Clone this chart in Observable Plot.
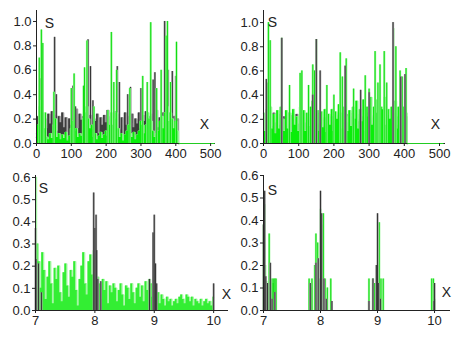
<!DOCTYPE html>
<html><head><meta charset="utf-8">
<script src="https://cdn.jsdelivr.net/npm/d3@7"></script>
<script src="https://cdn.jsdelivr.net/npm/@observablehq/plot@0.6"></script>
<style>
body{margin:0;background:#fff;}
#chart{position:relative;width:463px;height:340px;overflow:hidden;}
#chart svg{position:absolute;}
</style></head><body><div id="chart"></div>
<script>
// ---------- DATA ----------
const topXTicks = [0, 100, 200, 300, 400, 500];
const topYTicks = [0, 0.2, 0.4, 0.6, 0.8, 1.0];
const botXTicks = [7, 8, 9, 10];
const botYTicks = [0, 0.1, 0.2, 0.3, 0.4, 0.5, 0.6];

// Panel 1 (top-left) black series, x = 0,5,...,410
const k1 = [0.05,0.22,0.15,0.25,0.18,0.20,0.12,0.24,0.16,0.26,0.14,0.23,0.10,0.22,0.17,0.25,0.13,0.21,0.03,0.20,
  0.15,0.26,0.18,0.28,0.12,0.24,0.19,0.22,0.10,0.25,0.16,0.23,0.14,0.20,0.18,0.24,0.08,0.21,0.15,0.23,
  0.17,0.27,0.12,0.22,0.16,0.26,0.19,0.24,0.11,0.21,0.02,0.25,0.15,0.22,0.17,0.24,0.13,0.20,0.16,0.25,
  0.12,0.23,0.18,0.26,0.14,0.22,0.09,0.24,0.16,0.27,0.13,0.21,0.17,0.25,0.10,0.23,0.15,0.24,0.12,0.22,
  0.18,0.20,0.00];
const k1Spikes = [[12,0.53],[52,0.87],[57,0.40],[105,0.47],[112,0.30],[148,0.85],[155,0.63],[162,0.35],[232,0.63],[238,0.50],
  [262,0.40],[270,0.46],[300,0.45],[335,0.52],[340,0.58],[368,1.00],[378,0.60],[390,0.59],[400,0.55]];
// Panel 1 green series, x = 0,5,...,510
const g1 = [0.08,0.15,0.30,0.35,0.25,0.12,0.05,0.03,0.08,0.04,0.15,0.20,0.05,0.08,0.03,0.07,0.04,0.09,0.02,0.06,
  0.12,0.18,0.10,0.12,0.05,0.08,0.06,0.20,0.25,0.30,0.20,0.12,0.15,0.05,0.08,0.03,0.06,0.09,0.04,0.07,
  0.10,0.06,0.15,0.25,0.15,0.20,0.25,0.12,0.05,0.08,0.02,0.07,0.10,0.15,0.08,0.05,0.09,0.03,0.07,0.10,
  0.18,0.15,0.08,0.15,0.25,0.20,0.18,0.10,0.05,0.08,0.10,0.18,0.22,0.12,0.25,0.30,0.18,0.25,0.20,0.12,
  0.18,0.10,0.00,0,0,0,0,0,0,0,0,0,0,0,0,0,0,0,0,0,0,0,0];
const g1Spikes = [[8,0.70],[14,0.93],[18,0.82],[26,0.25],[50,0.42],[100,0.45],[108,0.57],[135,0.47],[138,0.62],[145,0.84],
  [165,0.30],[205,0.27],[215,0.91],[222,0.50],[230,0.60],[268,0.45],[305,0.55],[318,0.50],[328,0.99],[345,0.45],
  [358,0.60],[372,0.88],[376,1.00],[385,0.50],[402,0.83]];

// Panel 2 (top-right)
const k2 = [0.20,0.15,0.24,0.16,0.22,0.14,0.25,0.17,0.21,0.15,0.24,0.18,0.22,0.14,0.25,0.16,0.23,0.15,0.20,0.24,
  0.16,0.22,0.15,0.25,0.17,0.21,0.14,0.24,0.18,0.22,0.15,0.25,0.16,0.23,0.14,0.21,0.17,0.24,0.15,0.22,
  0.18,0.25,0.14,0.23,0.16,0.21,0.15,0.24,0.17,0.22,0.14,0.25,0.16,0.20,0.18,0.24,0.15,0.22,0.17,0.25,
  0.14,0.23,0.16,0.21,0.18,0.24,0.15,0.22,0.17,0.25,0.14,0.23,0.16,0.20,0.18,0.24,0.15,0.22,0.17,0.21,
  0.16,0.22,0.00];
const k2Spikes = [[8,0.53],[52,0.87],[140,0.40],[150,0.86],[161,0.60],[232,0.64],[276,0.44],[300,0.42],[368,1.00],[390,0.55],[402,0.57]];
const g2 = [0.25,0.10,0.28,0.40,0.30,0.12,0.24,0.08,0.27,0.12,0.30,0.20,0.10,0.27,0.12,0.25,0.09,0.28,0.15,0.22,
  0.10,0.30,0.18,0.27,0.10,0.25,0.14,0.30,0.35,0.28,0.20,0.27,0.10,0.26,0.13,0.28,0.09,0.24,0.15,0.28,
  0.10,0.26,0.20,0.32,0.25,0.12,0.30,0.22,0.10,0.27,0.14,0.30,0.20,0.35,0.12,0.28,0.18,0.36,0.10,0.30,
  0.22,0.38,0.15,0.30,0.25,0.36,0.12,0.30,0.28,0.38,0.15,0.28,0.20,0.30,0.25,0.35,0.12,0.30,0.28,0.20,
  0.30,0.25,0.00,0,0,0,0,0,0,0,0,0,0,0,0,0,0,0,0,0,0,0,0];
const g2Spikes = [[10,0.50],[14,1.00],[19,0.85],[52,0.87],[74,0.48],[104,0.58],[109,0.60],[128,0.48],[140,0.65],[145,0.60],
  [150,0.86],[180,0.48],[200,0.40],[218,0.75],[224,0.55],[235,0.70],[256,0.45],[289,0.56],[300,0.45],[317,0.76],
  [325,0.50],[331,0.65],[343,0.76],[350,0.50],[369,0.95],[376,0.80],[388,0.60],[394,0.55],[405,0.62]];

// Panel 3 (bottom-left), green x = 7.00, 7.03, ..., 10.00
const g3 = [0.60,0.30,0.22,0.10,0.26,0.18,0.05,0.15,0.22,0.12,0.03,0.19,0.14,0.20,0.08,0.04,0.17,0.21,0.11,0.06,
  0.18,0.15,0.22,0.09,0.02,0.14,0.20,0.26,0.12,0.07,0.22,0.25,0.16,0.27,
  0.10,0.15,0.12,0.05,0.14,0.09,0.13,0.03,0.11,0.08,0.12,0.10,0.04,0.09,0.12,0.07,0.02,0.11,0.10,0.05,
  0.12,0.08,0.03,0.10,0.12,0.06,0.11,0.04,0.13,0.09,0.14,0.12,0.06,
  0.10,0.06,0.08,0.03,0.07,0.05,0.02,0.06,0.04,0.05,0.02,0.04,0.05,0.03,0.06,0.07,0.05,0.03,0.07,0.06,
  0.04,0.06,0.02,0.05,0.04,0.03,0.05,0.02,0.04,0.05,0.03,0.04,0.02,0.06];
const k3Spikes = [[7.00,0.37],[7.01,0.23],[7.05,0.21],[7.10,0.08],[7.98,0.53],[8.00,0.37],[8.02,0.43],[8.03,0.27],[8.05,0.14],
  [8.10,0.13],[8.92,0.14],[8.98,0.35],[9.00,0.43],[9.02,0.21],[9.04,0.12],[10.00,0.12]];

// Panel 4 (bottom-right)
const g4Spikes = [[7.00,0.38],[7.01,0.30],[7.02,0.47],[7.03,0.20],[7.05,0.13],[7.07,0.10],[7.08,0.12],[7.10,0.34],[7.12,0.10],
  [7.15,0.14],[7.17,0.12],[7.18,0.14],[7.20,0.14],[7.22,0.14],[7.80,0.14],[7.82,0.12],[7.83,0.10],[7.85,0.14],[7.90,0.20],
  [7.92,0.34],[7.95,0.30],[7.97,0.12],[7.98,0.14],[8.00,0.45],[8.01,0.25],[8.02,0.38],[8.05,0.43],[8.08,0.14],[8.12,0.10],
  [8.18,0.14],[8.85,0.14],[8.92,0.14],[8.95,0.12],[9.00,0.20],[9.03,0.39],[9.06,0.14],[9.10,0.14],[9.95,0.14],[9.98,0.14],[10.00,0.05]];
const k4Spikes = [[7.00,0.38],[7.02,0.53],[7.04,0.15],[7.07,0.12],[7.12,0.21],[7.15,0.05],[7.20,0.08],[7.82,0.12],[7.92,0.21],
  [7.96,0.23],[8.00,0.53],[8.02,0.43],[8.06,0.14],[8.10,0.05],[8.20,0.04],[8.85,0.04],[8.92,0.14],[8.98,0.20],[9.00,0.43],
  [9.02,0.12],[9.05,0.05],[9.99,0.04],[10.00,0.12]];

// ---------- HELPERS ----------
const pts = (vals, x0, step) => vals.map((v, i) => ({x: +(x0 + i * step).toFixed(3), y: v}));
const spk = list => list.map(([x, y]) => ({x, y}));
const FONT = '"Liberation Sans", Arial, sans-serif';
const GREEN = "#0aee0a", GREEN_L = "#97f597", DARK = "#333333", GRAY_L = "#a8a8a8";

function spikes(list, core, halo) {
  const d = spk(list);
  return [
    Plot.ruleX(d, {x: "x", y1: 0, y2: "y", stroke: halo, strokeWidth: 2.2}),
    Plot.ruleX(d, {x: "x", y1: 0, y2: "y", stroke: core, strokeWidth: 1})
  ];
}
// dense series: solid step-area with a lighter fringe on top
function band(d, fill, fringe) {
  return [
    Plot.lineY(d, {x: "x", y: "y", curve: "step", stroke: fringe, strokeWidth: 1.6}),
    Plot.areaY(d, {x: "x", y: "y", curve: "step", fill: fill})
  ];
}

const container = document.getElementById("chart");
function panel(cfg) {
  const p = Plot.plot({
    width: cfg.w, height: cfg.h,
    marginLeft: cfg.ml, marginRight: cfg.mr, marginTop: cfg.mt, marginBottom: cfg.mb,
    style: {fontFamily: FONT, fontSize: "13px", color: "#222", background: "transparent", overflow: "visible"},
    x: {domain: cfg.xd},
    y: {domain: cfg.yd},
    marks: [
      ...cfg.marks,
      Plot.ruleY([0], {stroke: "#222", strokeWidth: 1}),
      Plot.ruleX([cfg.xd[0]], {stroke: "#222", strokeWidth: 1}),
      ...(cfg.tail || []),
      Plot.axisX({ticks: cfg.xt, tickFormat: d => String(d), tickSize: 3, tickPadding: 2, label: null, fontSize: 13}),
      Plot.axisY({ticks: cfg.yt, tickFormat: d3.format(".1f"), tickSize: 3, tickPadding: 2, label: null, fontSize: 13}),
      Plot.text(["S"], {frameAnchor: "top-left", dx: cfg.sdx, dy: cfg.sdy, fontSize: 14, fill: "#222", textAnchor: "middle"}),
      Plot.text(["X"], {frameAnchor: "bottom-right", dx: cfg.xdx, dy: cfg.xdy, fontSize: 14, fill: "#222", textAnchor: "middle"})
    ]
  });
  p.style.left = cfg.left + "px";
  p.style.top = cfg.top + "px";
  container.append(p);
}

const g1p = pts(g1, 0, 5), g2p = pts(g2, 0, 5);

// Panel 1
panel({
  left: 0, top: 0, w: 230, h: 165, ml: 36, mr: 15, mt: 10, mb: 22,
  xd: [0, 514], yd: [0, 1.09], xt: topXTicks, yt: topYTicks,
  sdx: 13, sdy: 8, xdx: -11, xdy: -15,
  marks: [
    ...band(pts(k1, 0, 5), "#3c3c3c", "#9a9a9a"),
    ...spikes(k1Spikes, DARK, GRAY_L),
    ...band(g1p.filter(d => d.x <= 410), GREEN, GREEN_L),
    ...spikes(g1Spikes, "#11dd11", GREEN_L)
  ],
  tail: [Plot.lineY(g1p.filter(d => d.x >= 410), {x: "x", y: "y", stroke: "#22cc22", strokeWidth: 1.2})]
});

// Panel 2
panel({
  left: 230, top: 0, w: 233, h: 165, ml: 33, mr: 18, mt: 10, mb: 22,
  xd: [0, 517], yd: [0, 1.1], xt: topXTicks, yt: topYTicks,
  sdx: 9, sdy: 7, xdx: -10, xdy: -15,
  marks: [
    ...band(pts(k2, 0, 5), "#4a4a4a", "#9a9a9a"),
    ...band(g2p.filter(d => d.x <= 410), GREEN, GREEN_L),
    ...spikes(g2Spikes, "#11dd11", GREEN_L),
    ...spikes(k2Spikes, DARK, GRAY_L)
  ],
  tail: [Plot.lineY(g2p.filter(d => d.x >= 410), {x: "x", y: "y", stroke: "#22cc22", strokeWidth: 1.2})]
});

// Panel 3
panel({
  left: 0, top: 165, w: 230, h: 175, ml: 35, mr: 2, mt: 10, mb: 30,
  xd: [7, 10.25], yd: [0, 0.609], xt: botXTicks, yt: botYTicks,
  sdx: 8, sdy: 8, xdx: -2, xdy: -12,
  marks: [
    ...band(pts(g3, 7, 0.03), "#33ee33", "#a6f5a6"),
    ...spikes(k3Spikes, DARK, GRAY_L)
  ]
});

// Panel 4
panel({
  left: 230, top: 165, w: 233, h: 175, ml: 33, mr: 13, mt: 10, mb: 30,
  xd: [7, 10.28], yd: [0, 0.6], xt: botXTicks, yt: botYTicks,
  sdx: 9, sdy: 10, xdx: -4, xdy: -14,
  marks: [
    ...spikes(g4Spikes, "#11dd11", GREEN_L),
    ...spikes(k4Spikes, DARK, GRAY_L)
  ]
});
</script></body></html>
